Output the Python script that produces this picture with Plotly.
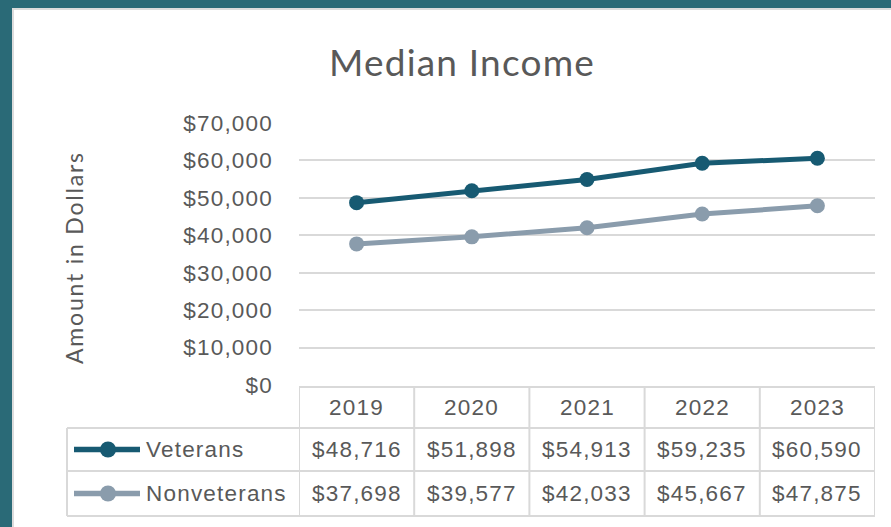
import plotly.graph_objects as go

years = ["2019", "2020", "2021", "2022", "2023"]
veterans = [48716, 51898, 54913, 59235, 60590]
nonveterans = [37698, 39577, 42033, 45667, 47875]
series_names = ["Veterans", "Nonveterans"]
y_ticks = [0, 10000, 20000, 30000, 40000, 50000, 60000, 70000]

W, H = 891, 527
L, R, T, B = 299, 875, 123, 385  # plot area pixels
colors = ["#175a72", "#8a9cac"]
grid = "#d9d9d9"
txt = "#595959"
tick_font = dict(family="Liberation Sans, Arial, sans-serif", size=22.5, color=txt)


def sp(s, ls=1.2):
    return f'<span style="letter-spacing:{ls}px">{s}</span>'


def px(x):
    return (x - L) / (R - L)


def py(y):
    return (B - y) / (B - T)


xs = list(range(len(years)))
fig = go.Figure()
for name, vals, c in zip(series_names, [veterans, nonveterans], colors):
    fig.add_trace(go.Scatter(x=xs, y=vals, mode="lines+markers", name=name,
                             line=dict(color=c, width=5),
                             marker=dict(color=c, size=15), showlegend=False,
                             cliponaxis=False))

shapes = []
# white card
shapes.append(dict(type="rect", xref="paper", yref="paper", x0=px(13), x1=px(W + 5),
                   y0=py(H + 5), y1=py(9), fillcolor="white",
                   line=dict(color="#dcdcdc", width=2), layer="below"))
# table lines
lw = dict(color=grid, width=2)
y_head_top, y_r1, y_r2, y_bot = 387, 428, 471, 516
left_tab = 67
shapes.append(dict(type="line", xref="x", yref="paper", x0=-0.5, x1=len(years) - 0.5,
                   y0=py(y_head_top), y1=py(y_head_top), line=lw))
for yy in (y_r1, y_r2, y_bot):
    shapes.append(dict(type="line", xref="paper", yref="paper", x0=px(left_tab), x1=1,
                       y0=py(yy), y1=py(yy), line=lw))
for i in range(len(years) + 1):
    shapes.append(dict(type="line", xref="x", yref="paper", x0=i - 0.5, x1=i - 0.5,
                       y0=py(y_head_top), y1=py(y_bot), line=lw))
shapes.append(dict(type="line", xref="paper", yref="paper", x0=px(left_tab), x1=px(left_tab),
                   y0=py(y_r1), y1=py(y_bot), line=lw))

annotations = []
row_centers = [(y_r1 + y_r2) / 2, (y_r2 + y_bot) / 2]
for i, yr in enumerate(years):
    annotations.append(dict(x=i, y=py((y_head_top + y_r1) / 2), xref="x", yref="paper",
                            text=sp(yr), showarrow=False, font=tick_font,
                            xanchor="center", yanchor="middle"))
for vals, yc in zip([veterans, nonveterans], row_centers):
    for i, v in enumerate(vals):
        annotations.append(dict(x=i, y=py(yc), xref="x", yref="paper",
                                text=sp(f"${v:,}"), showarrow=False, font=tick_font,
                                xanchor="center", yanchor="middle"))
for name, c, yc in zip(series_names, colors, row_centers):
    shapes.append(dict(type="line", xref="paper", yref="paper", x0=px(74), x1=px(140),
                       y0=py(yc), y1=py(yc), line=dict(color=c, width=5.5)))
    shapes.append(dict(type="circle", xref="paper", yref="paper", x0=px(100), x1=px(116),
                       y0=py(yc + 8), y1=py(yc - 8), fillcolor=c, line=dict(color=c, width=0)))
    annotations.append(dict(x=px(144), y=py(yc), xref="paper", yref="paper", text=sp(name),
                            showarrow=False, font=tick_font, xanchor="left", yanchor="middle"))

annotations.append(dict(x=px(74), y=py(258), xref="paper", yref="paper",
                        text=sp("Amount in Dollars", 1.8), textangle=-90, showarrow=False,
                        font=dict(family="Lato, sans-serif", size=23, color=txt),
                        xanchor="center", yanchor="middle"))
annotations.append(dict(x=px(462), y=py(62), xref="paper", yref="paper",
                        text=sp("Median Income", 1.2), showarrow=False,
                        font=dict(family="Lato, sans-serif", size=37, color=txt),
                        xanchor="center", yanchor="middle"))

fig.update_layout(
    width=W, height=H,
    margin=dict(l=L, r=W - R, t=T, b=H - B, pad=0),
    paper_bgcolor="#2a6a77", plot_bgcolor="rgba(0,0,0,0)",
    shapes=shapes, annotations=annotations,
    xaxis=dict(range=[-0.5, len(years) - 0.5], showticklabels=False, showgrid=False,
               zeroline=False, showline=False, fixedrange=True),
    yaxis=dict(range=[0, 70000], tickvals=y_ticks,
               ticktext=[sp(f"${v:,}") for v in y_ticks],
               showgrid=True, gridcolor=grid, gridwidth=1.5, zeroline=False,
               showline=False, tickfont=tick_font, ticklabelstandoff=25, fixedrange=True),
)
fig.write_html("out.html", config={"displayModeBar": False},
               post_script="document.body.style.margin='0';document.body.style.overflow='hidden';")
